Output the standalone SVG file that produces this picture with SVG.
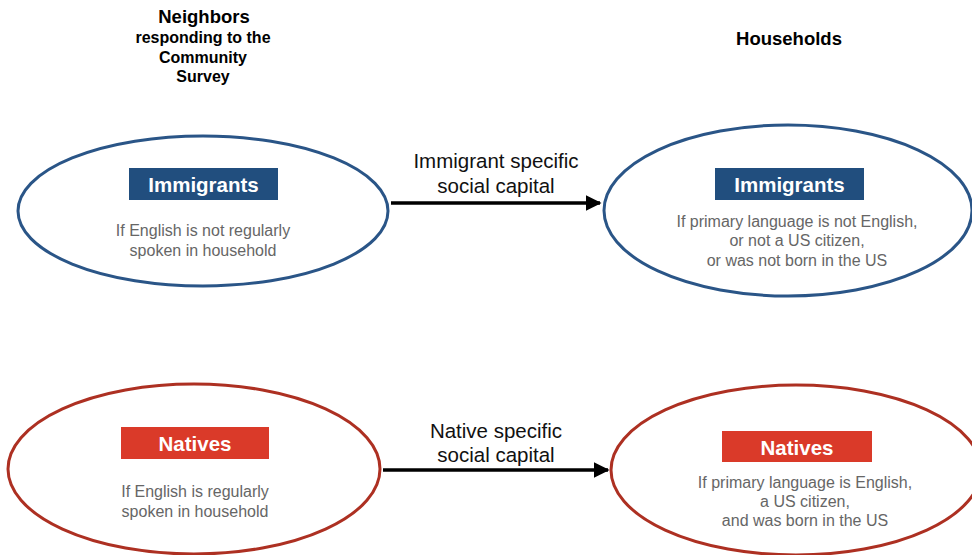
<svg xmlns="http://www.w3.org/2000/svg" width="972" height="555" viewBox="0 0 972 555">
<style>
text{font-family:"Liberation Sans",Arial,sans-serif;text-anchor:middle}
.hdr{font-weight:bold;fill:#000}
.tag{font-weight:bold;font-size:20.5px;fill:#fff}
.desc{font-size:16px;fill:#666}
.lbl{font-size:20.5px;fill:#111}
.eb{fill:#fff;stroke:#2A5587;stroke-width:3}
.er{fill:#fff;stroke:#AD3022;stroke-width:3}
.bb{fill:#214E7E}
.br{fill:#DA3A29}
.conn{stroke:#000;stroke-width:3.5;fill:none}
</style>
<defs>
<marker id="ah" viewBox="0 0 10 10" refX="9" refY="5" markerWidth="4.5" markerHeight="4.5" markerUnits="strokeWidth" orient="auto">
<path d="M0,0 L10,5 L0,10 z" fill="#000"/>
</marker>
</defs>
<rect width="972" height="555" fill="#fff"/>
<g id="headers">
<text class="hdr" x="204" y="23" font-size="18.5">Neighbors</text>
<text class="hdr" x="203" y="43" font-size="16">responding to the</text>
<text class="hdr" x="203" y="63" font-size="16">Community</text>
<text class="hdr" x="203" y="82" font-size="16">Survey</text>
<text class="hdr" x="789" y="45" font-size="18.5">Households</text>
</g>
<g id="connectors">
<line class="conn" x1="391" y1="203" x2="600" y2="203" marker-end="url(#ah)"/>
<text class="lbl" x="496" y="168">Immigrant specific</text>
<text class="lbl" x="496" y="193">social capital</text>
<line class="conn" x1="383" y1="470" x2="608" y2="470" marker-end="url(#ah)"/>
<text class="lbl" x="496" y="438">Native specific</text>
<text class="lbl" x="496" y="462">social capital</text>
</g>
<g id="neighbors-immigrants">
<ellipse class="eb" cx="203" cy="211" rx="185" ry="75"/>
<rect class="bb" x="129" y="168" width="149" height="32"/>
<text class="tag" x="203.5" y="192">Immigrants</text>
<text class="desc" x="203" y="236">If English is not regularly</text>
<text class="desc" x="203" y="256">spoken in household</text>
</g>
<g id="households-immigrants">
<ellipse class="eb" cx="788" cy="210.5" rx="184" ry="85.5"/>
<rect class="bb" x="715" y="168" width="149" height="32"/>
<text class="tag" x="789.5" y="192">Immigrants</text>
<text class="desc" x="797" y="227">If primary language is not English,</text>
<text class="desc" x="797" y="246">or not a US citizen,</text>
<text class="desc" x="797" y="266">or was not born in the US</text>
</g>
<g id="neighbors-natives">
<ellipse class="er" cx="194" cy="469" rx="186" ry="85"/>
<rect class="br" x="121" y="427" width="148" height="32"/>
<text class="tag" x="195" y="451">Natives</text>
<text class="desc" x="195" y="497">If English is regularly</text>
<text class="desc" x="195" y="517">spoken in household</text>
</g>
<g id="households-natives">
<ellipse class="er" cx="796" cy="470" rx="185" ry="85"/>
<rect class="br" x="722" y="431" width="150" height="31"/>
<text class="tag" x="797" y="455">Natives</text>
<text class="desc" x="805" y="488">If primary language is English,</text>
<text class="desc" x="805" y="507">a US citizen,</text>
<text class="desc" x="805" y="526">and was born in the US</text>
</g>
</svg>
